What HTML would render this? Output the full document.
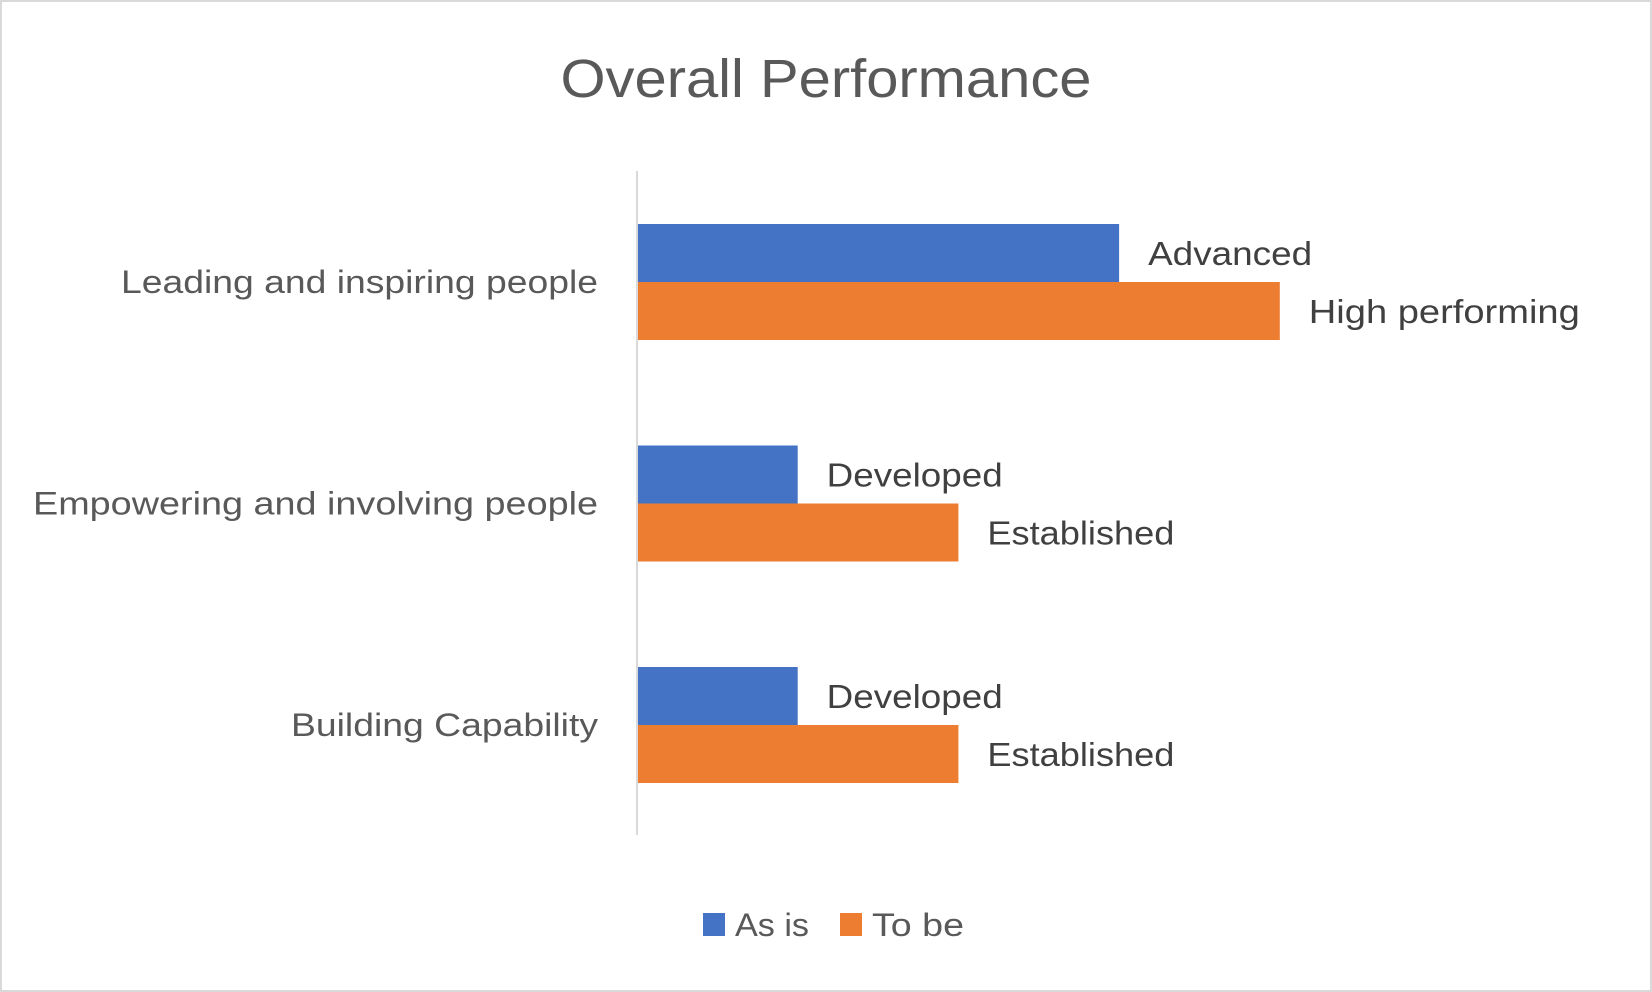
<!DOCTYPE html>
<html><head><meta charset="utf-8"><style>
html,body{margin:0;padding:0;background:#fff}
svg{display:block;font-family:"Liberation Sans",sans-serif}
</style></head><body>
<svg id="chart" width="1652" height="992" viewBox="0 0 1652 992">
<rect x="1" y="1" width="1650" height="990" fill="#fff" stroke="#d9d9d9" stroke-width="2"/>
<text x="826" y="97" text-anchor="middle" font-size="54" fill="#595959" textLength="531" lengthAdjust="spacingAndGlyphs">Overall Performance</text>
<line x1="637" y1="171" x2="637" y2="835" stroke="#d9d9d9" stroke-width="2"/>
<g id="bars"></g>
<g>
<rect x="703" y="913" width="22" height="23" fill="#4472c4"/>
<text x="735" y="936" font-size="32" fill="#595959" textLength="74" lengthAdjust="spacingAndGlyphs">As is</text>
<rect x="840" y="913" width="22" height="23" fill="#ed7d31"/>
<text x="872" y="936" font-size="32" fill="#595959" textLength="92" lengthAdjust="spacingAndGlyphs">To be</text>
</g>
</svg>
<script>
const categories = ["Leading and inspiring people", "Empowering and involving people", "Building Capability"];
const asIs = [3, 1, 1];
const toBe = [4, 2, 2];
const levelNames = ["", "Developed", "Established", "Advanced", "High performing"];

const NS = "http://www.w3.org/2000/svg";
const g = document.getElementById("bars");
const x0 = 637, unit = 160.7;
const xScale = v => x0 + v * unit;
const groupTop = 224, groupStep = 221.5, barH = 58;
const catWidths = {"Leading and inspiring people":477,"Empowering and involving people":565,"Building Capability":307};
const labelW = {"Developed":176,"Established":187,"Advanced":164,"High performing":271};
function mk(tag, attrs){const e=document.createElementNS(NS,tag);for(const k in attrs)e.setAttribute(k,attrs[k]);return e;}
categories.forEach((c,i)=>{
  const top = groupTop + i*groupStep;
  const t = mk("text",{x:598,y:top+barH+11,"text-anchor":"end","font-size":32,fill:"#595959"});
  t.setAttribute("textLength", catWidths[c]||c.length*16);
  t.setAttribute("lengthAdjust","spacingAndGlyphs");
  t.textContent = c;
  
  
  g.appendChild(t);
  [[asIs,"#4472c4",0,"as-is"],[toBe,"#ed7d31",1,"to-be"]].forEach(([arr,col,k,nm])=>{
    const y = top + k*barH;
    const w = xScale(arr[i]) - x0;
    const r = mk("rect",{x:x0+1,y:y,width:Math.max(0,w-1),height:barH,fill:col});
    
    
    g.appendChild(r);
    const name = levelNames[arr[i]] || String(arr[i]);
    const l = mk("text",{x:xScale(arr[i])+29,y:y+barH/2+12,"font-size":33,fill:"#404040"});
    if(labelW[name]){l.setAttribute("textLength",labelW[name]);l.setAttribute("lengthAdjust","spacingAndGlyphs");}
    l.textContent = name;
    
    
    g.appendChild(l);
  });
});
</script>
</body></html>
